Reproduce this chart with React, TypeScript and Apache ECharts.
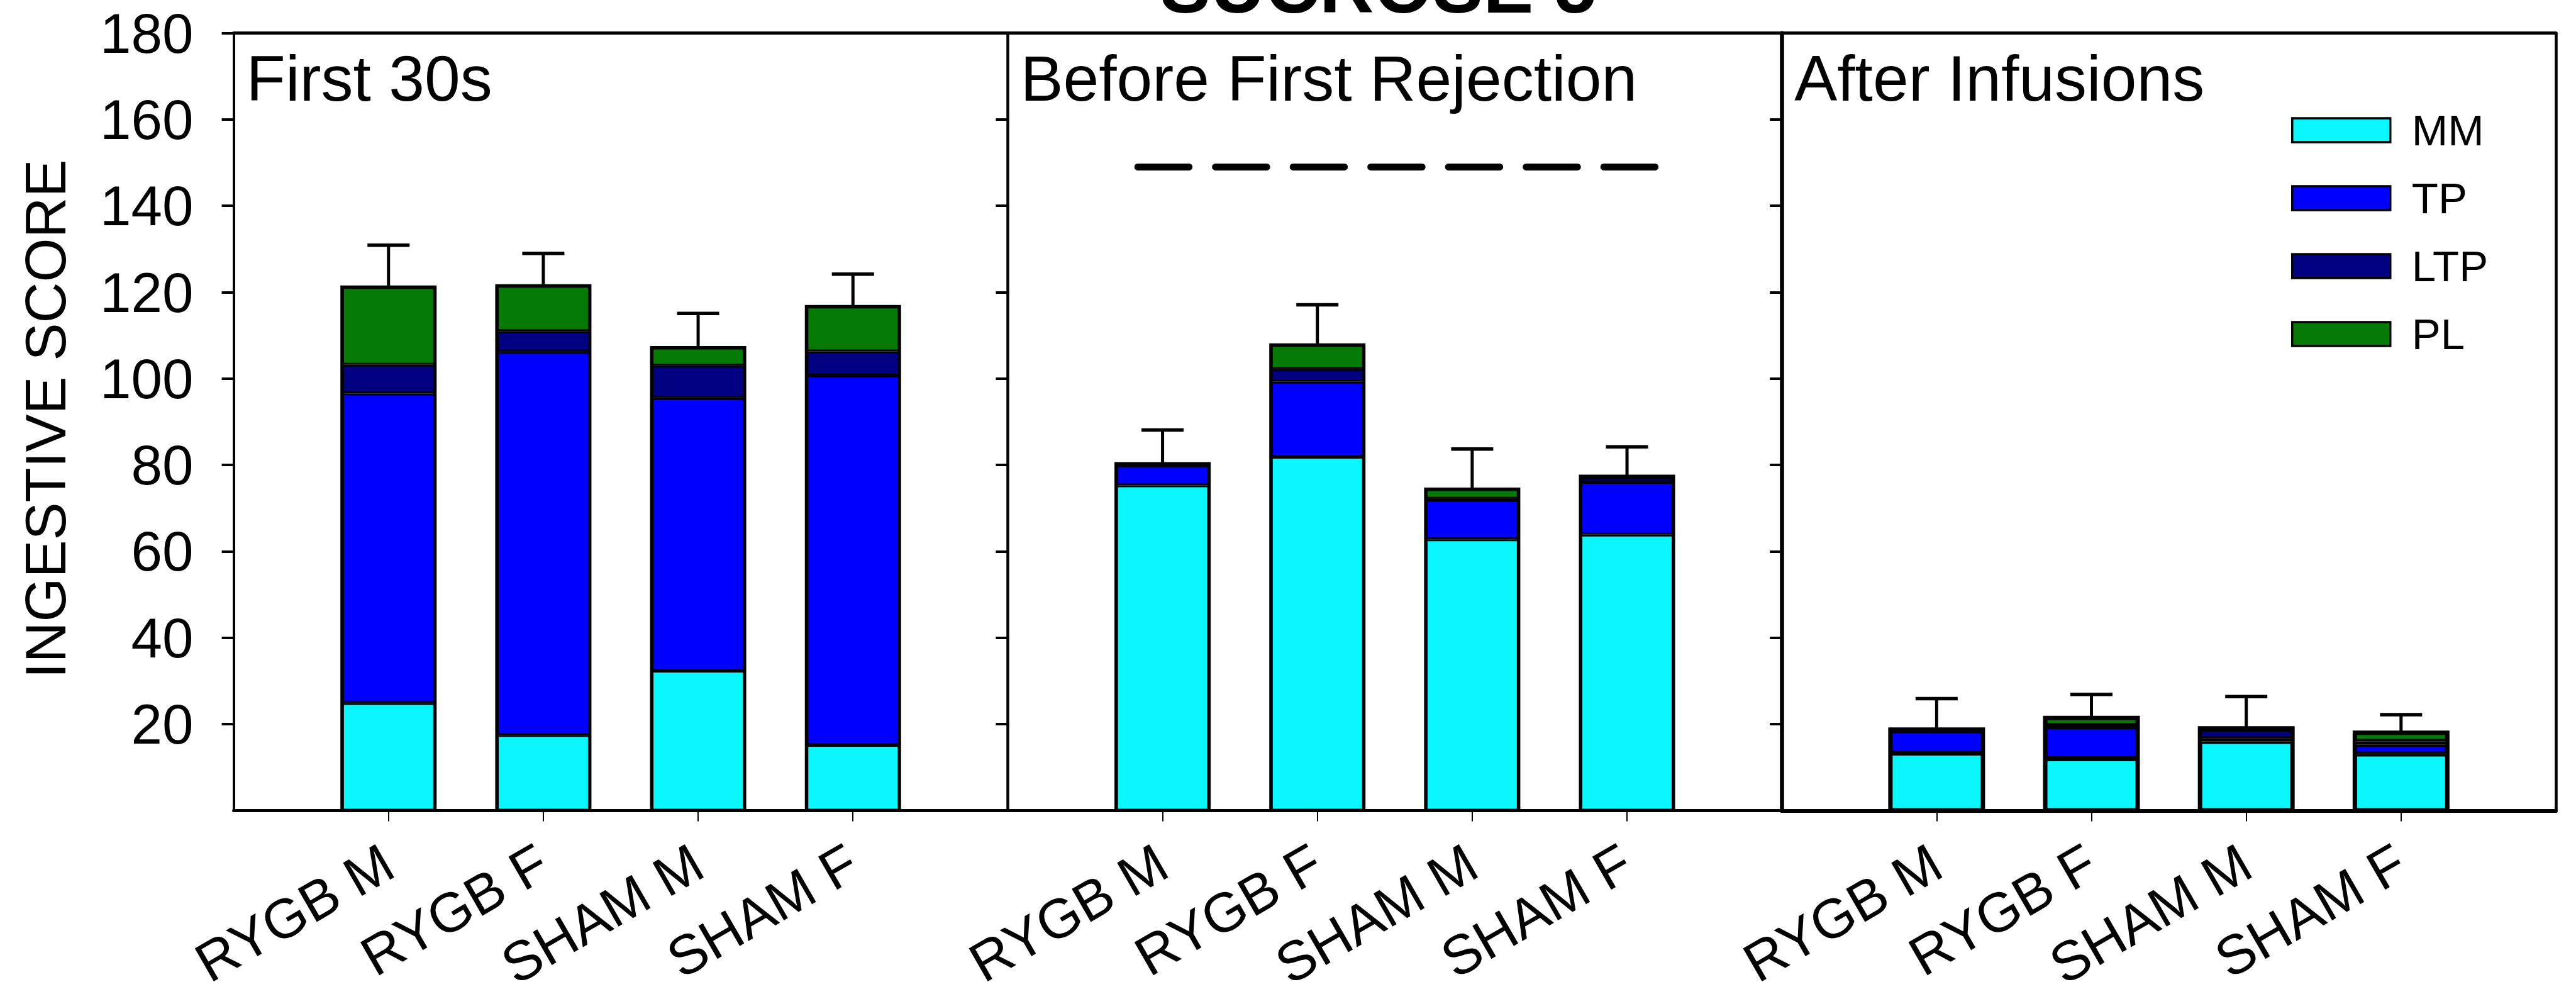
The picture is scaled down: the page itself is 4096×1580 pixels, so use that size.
import React, { useEffect, useRef } from 'react';
import * as echarts from 'echarts';

// ---------------- DATA ----------------
const chartTitle = 'SUCROSE 5';
const yAxisTitle = 'INGESTIVE SCORE';
const categories = ['RYGB M', 'RYGB F', 'SHAM M', 'SHAM F'];
const panelTitles = ['First 30s', 'Before First Rejection', 'After Infusions'];
const componentNames = ['MM', 'TP', 'LTP', 'PL'];
const yTickValues = [20, 40, 60, 80, 100, 120, 140, 160, 180];

// First 30s
const mmFirst30 = [24.9, 17.5, 32.4, 15.2];
const tpFirst30 = [71.7, 88.7, 63.1, 85.5];
const ltpFirst30 = [6.6, 4.8, 7.5, 5.6];
const plFirst30 = [18.0, 10.5, 4.2, 10.4];
const errFirst30 = [9.7, 7.5, 7.9, 7.5];

// Before First Rejection
const mmBefore = [75.3, 81.9, 62.8, 63.9];
const tpBefore = [4.6, 17.4, 9.1, 12.2];
const ltpBefore = [0.4, 2.9, 0.3, 1.0];
const plBefore = [0, 5.6, 2.2, 0.3];
const errBefore = [7.8, 9.3, 9.3, 6.8];

// After Infusions
const mmAfter = [13.3, 12.0, 16.0, 13.1];
const tpAfter = [5.2, 7.4, 0.6, 2.2];
const ltpAfter = [0.3, 0.3, 2.2, 0.7];
const plAfter = [0, 1.8, 0.3, 2.1];
const errAfter = [7.1, 5.4, 7.3, 4.1];

// significance dashed line (panel 2): x range in slot units, y value
const sigLineX = [0.84, 4.19];
const sigLineY = 149;

// ---------------- LAYOUT / STYLE ----------------
const GRID_LEFT = 371.6;
const GRID_W = 1230.8;
const GRID_TOP = 52.6;
const GRID_H = 1235.9;
const BAR_W = 148;
const CAP_W = 67;
const FONT = "'Liberation Sans', Arial, Helvetica, sans-serif";
const COLORS = ['#0bf7ff', '#0000ff', '#000080', '#057a05'];
const Y_LINE_W = [4, 4.5, 6.5];
const X_LINE_W = [5, 5, 6];
const OUTLINE_W = [5, 5, 6];
const SEG_BORDER_W = [3, 3, 4];

const panelData = [
  [mmFirst30, tpFirst30, ltpFirst30, plFirst30, errFirst30],
  [mmBefore, tpBefore, ltpBefore, plBefore, errBefore],
  [mmAfter, tpAfter, ltpAfter, plAfter, errAfter],
];

const axisCats = ['', ...categories, ''];

function buildOption() {
  const grid: any[] = [];
  const xAxis: any[] = [];
  const yAxis: any[] = [];
  const series: any[] = [];
  const graphic: any[] = [];

  for (let i = 0; i < 3; i++) {
    const left = GRID_LEFT + i * GRID_W;
    grid.push({ left, top: GRID_TOP, width: GRID_W, height: GRID_H });

    // bottom category axis
    xAxis.push({
      type: 'category',
      gridIndex: i,
      position: 'bottom',
      data: axisCats,
      boundaryGap: false,
      axisLine: { show: true, onZero: false, lineStyle: { color: '#000', width: X_LINE_W[i] } },
      axisTick: {
        show: true,
        inside: false,
        length: 17,
        interval: (idx: number) => idx >= 1 && idx <= 4,
        lineStyle: { color: '#000', width: 2 },
      },
      axisLabel: {
        show: true,
        interval: 0,
        rotate: 30,
        margin: 76,
        fontSize: 88,
        color: '#000',
        fontFamily: FONT,
      },
      splitLine: { show: false },
    });
    // top value axis (frame line, and used for the dashed line)
    xAxis.push({
      type: 'value',
      gridIndex: i,
      position: 'top',
      min: 0,
      max: 5,
      axisLine: { show: true, onZero: false, lineStyle: { color: '#000', width: 5 } },
      axisTick: { show: false },
      axisLabel: { show: false },
      splitLine: { show: false },
    });

    yAxis.push({
      type: 'value',
      gridIndex: i,
      position: 'left',
      min: 0,
      max: 180,
      interval: 20,
      axisLine: { show: true, onZero: false, lineStyle: { color: '#000', width: Y_LINE_W[i] } },
      axisTick: {
        show: true,
        inside: false,
        length: 19,
        customValues: yTickValues,
        lineStyle: { color: '#000', width: 4 },
      },
      axisLabel: {
        show: i === 0,
        customValues: yTickValues,
        margin: 64,
        fontSize: 89,
        color: '#000',
        fontFamily: FONT,
      },
      splitLine: { show: false },
    });

    const [mm, tp, ltp, pl, err] = panelData[i];
    const comps = [mm, tp, ltp, pl];
    comps.forEach((arr, k) => {
      series.push({
        type: 'bar',
        name: componentNames[k],
        xAxisIndex: 2 * i,
        yAxisIndex: i,
        stack: 'panel' + i,
        barWidth: BAR_W,
        data: ['-', ...arr, '-'],
        itemStyle: { color: COLORS[k], borderColor: '#000', borderWidth: SEG_BORDER_W[i] },
        emphasis: { disabled: true },
        silent: true,
        z: 2,
      });
    });

    const totals = categories.map((_, c) => mm[c] + tp[c] + ltp[c] + pl[c]);
    const ow = OUTLINE_W[i];
    series.push({
      type: 'custom',
      name: 'err' + i,
      xAxisIndex: 2 * i,
      yAxisIndex: i,
      silent: true,
      z: 5,
      data: categories.map((_, c) => [c + 1, totals[c], err[c]]),
      renderItem: (params: any, api: any) => {
        const x = api.value(0);
        const tot = api.value(1);
        const e = api.value(2);
        const base = api.coord([x, 0]);
        const top = api.coord([x, tot]);
        const cap = api.coord([x, tot + e]);
        return {
          type: 'group',
          children: [
            {
              type: 'line',
              shape: { x1: top[0], y1: top[1], x2: cap[0], y2: cap[1] },
              style: { stroke: '#000', lineWidth: 5 },
            },
            {
              type: 'line',
              shape: { x1: cap[0] - CAP_W / 2, y1: cap[1], x2: cap[0] + CAP_W / 2, y2: cap[1] },
              style: { stroke: '#000', lineWidth: 5.5 },
            },
            {
              type: 'rect',
              shape: { x: base[0] - BAR_W / 2, y: top[1], width: BAR_W, height: base[1] - top[1] },
              style: { fill: 'none', stroke: '#000', lineWidth: ow },
            },
          ],
        };
      },
    });

    graphic.push({
      type: 'text',
      x: left + 20,
      y: 160 - 0.3465 * 102,
      style: {
        text: panelTitles[i],
        fontSize: 102,
        fontFamily: FONT,
        fill: '#000',
        align: 'left',
        verticalAlign: 'middle',
      },
      silent: true,
    });
  }

  // right frame line
  yAxis.push({
    type: 'value',
    gridIndex: 2,
    position: 'right',
    min: 0,
    max: 180,
    axisLine: { show: true, onZero: false, lineStyle: { color: '#000', width: 4.5 } },
    axisTick: { show: false },
    axisLabel: { show: false },
    splitLine: { show: false },
  });

  // dashed significance line in panel 2
  series.push({
    type: 'line',
    name: 'sig',
    xAxisIndex: 3,
    yAxisIndex: 1,
    symbol: 'none',
    silent: true,
    z: 6,
    data: [
      [sigLineX[0], sigLineY],
      [sigLineX[1], sigLineY],
    ],
    lineStyle: { color: '#000', width: 11, type: [81.5, 42], cap: 'round' },
  });

  graphic.push({
    type: 'text',
    x: 2191.5,
    y: 20 - 0.3465 * 120,
    style: {
      text: chartTitle,
      fontSize: 120,
      fontWeight: 'bold',
      fontFamily: FONT,
      fill: '#000',
      align: 'center',
      verticalAlign: 'middle',
    },
    silent: true,
  });
  graphic.push({
    type: 'text',
    x: 72.5,
    y: 666,
    rotation: Math.PI / 2,
    style: {
      text: yAxisTitle,
      fontSize: 90,
      fontFamily: FONT,
      fill: '#000',
      align: 'center',
      verticalAlign: 'middle',
    },
    silent: true,
  });

  return {
    animation: false,
    backgroundColor: '#fff',
    textStyle: { fontFamily: FONT },
    grid,
    xAxis,
    yAxis,
    series,
    graphic,
    legend: {
      data: componentNames,
      orient: 'vertical',
      left: 3643,
      top: 172.5,
      itemWidth: 156,
      itemHeight: 38,
      itemGap: 39,
      icon: 'rect',
      selectedMode: false,
      padding: 0,
      itemStyle: { borderColor: '#000', borderWidth: 3.5 },
      textStyle: {
        fontSize: 69,
        lineHeight: 38,
        color: '#000',
        fontFamily: FONT,
        padding: [0, 0, 0, 29],
      },
    },
  };
}

export default function App() {
  const ref = useRef<HTMLDivElement>(null);
  useEffect(() => {
    if (!ref.current) return;
    const chart = echarts.init(ref.current, undefined, { renderer: 'svg' });
    chart.setOption(buildOption() as any);
    return () => {
      chart.dispose();
    };
  }, []);
  return (
    <div
      ref={ref}
      style={{ position: 'fixed', left: 0, top: 0, width: 4096, height: 1580, background: '#fff' }}
    />
  );
}
